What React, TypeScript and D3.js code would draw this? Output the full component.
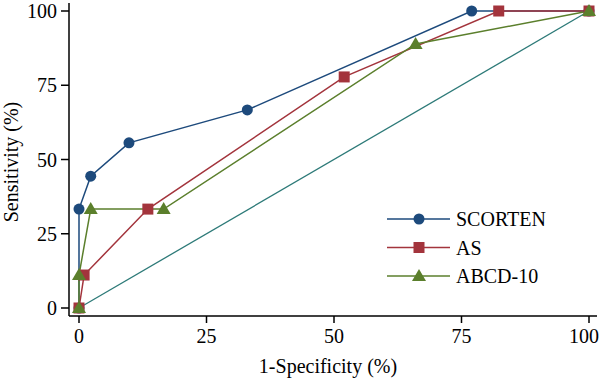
import React from "react";
import * as d3 from "d3";

const xTicks = [0, 25, 50, 75, 100];
const yTicks = [0, 25, 50, 75, 100];

const scortenX = [0, 0, 2.3, 9.8, 33.0, 77.0, 100];
const scortenY = [0, 33.3, 44.4, 55.6, 66.7, 100, 100];
const asX = [0, 1.0, 13.5, 52.0, 82.3, 100];
const asY = [0, 11.1, 33.3, 77.8, 100, 100];
const abcdX = [0, 0, 2.3, 16.6, 66.0, 100];
const abcdY = [0, 11.1, 33.3, 33.3, 88.9, 100];
const diagX = [0, 100];
const diagY = [0, 100];

const seriesNames = ["SCORTEN", "AS", "ABCD-10"];
const colors = ["#1d4a7c", "#a3343c", "#5b7f2c"];
const diagColor = "#2d7a78";

const font = "'Times New Roman', 'Liberation Serif', 'DejaVu Serif', serif";
const ts: React.CSSProperties = { fontFamily: font, fontSize: 20 };

export default function App() {
  const W = 600, H = 381;
  const x = d3.scaleLinear().domain([0, 100]).range([79, 589]);
  const y = d3.scaleLinear().domain([0, 100]).range([308, 11]);
  const line = d3.line<[number, number]>().x(d => x(d[0])).y(d => y(d[1]));
  const zip = (a: number[], b: number[]) => a.map((v, i) => [v, b[i]] as [number, number]);
  const series = [zip(scortenX, scortenY), zip(asX, asY), zip(abcdX, abcdY)];

  const marker = (k: number, cx: number, cy: number, key: string) => {
    if (k === 0) return <circle key={key} cx={cx} cy={cy} r={5.5} fill={colors[0]} />;
    if (k === 1) return <rect key={key} x={cx - 5.5} y={cy - 5.5} width={11} height={11} fill={colors[1]} />;
    return <path key={key} d={`M${cx},${cy - 7}L${cx + 7},${cy + 5}L${cx - 7},${cy + 5}Z`} fill={colors[2]} />;
  };

  return (
    <svg width={W} height={H} style={{ position: "absolute", left: 0, top: 0 }}>
      <rect width={W} height={H} fill="#fff" />
      <line x1={69} x2={69} y1={3} y2={316} stroke="#000" strokeWidth={1.5} />
      <line x1={69} x2={597} y1={316} y2={316} stroke="#000" strokeWidth={1.5} />
      {yTicks.map(t => (
        <g key={"y" + t}>
          <line x1={61} x2={69} y1={y(t)} y2={y(t)} stroke="#000" strokeWidth={1.5} />
          <text x={57} y={y(t)} dy="0.35em" textAnchor="end" style={ts}>{t}</text>
        </g>
      ))}
      {xTicks.map(t => (
        <g key={"x" + t}>
          <line x1={x(t)} x2={x(t)} y1={316} y2={323} stroke="#000" strokeWidth={1.5} />
          <text x={Math.min(x(t), 584)} y={343} textAnchor="middle" style={ts}>{t}</text>
        </g>
      ))}
      <text x={328} y={373} textAnchor="middle" style={ts}>1-Specificity (%)</text>
      <text transform="translate(18,162) rotate(-90)" textAnchor="middle" style={ts}>Sensitivity (%)</text>
      <path d={line(zip(diagX, diagY)) || ""} fill="none" stroke={diagColor} strokeWidth={1.3} />
      {series.map((s, k) => (
        <path key={"l" + k} d={line(s) || ""} fill="none" stroke={colors[k]} strokeWidth={1.5} />
      ))}
      {series.map((s, k) => s.map((p, i) => marker(k, x(p[0]), y(p[1]), `m${k}-${i}`)))}
      {seriesNames.map((n, k) => {
        const ly = 219 + k * 28.5;
        return (
          <g key={"lg" + k}>
            <line x1={387} x2={450} y1={ly} y2={ly} stroke={colors[k]} strokeWidth={1.5} />
            {marker(k, 419, ly, "lm" + k)}
            <text x={456} y={ly} dy="0.35em" style={ts}>{n}</text>
          </g>
        );
      })}
    </svg>
  );
}
